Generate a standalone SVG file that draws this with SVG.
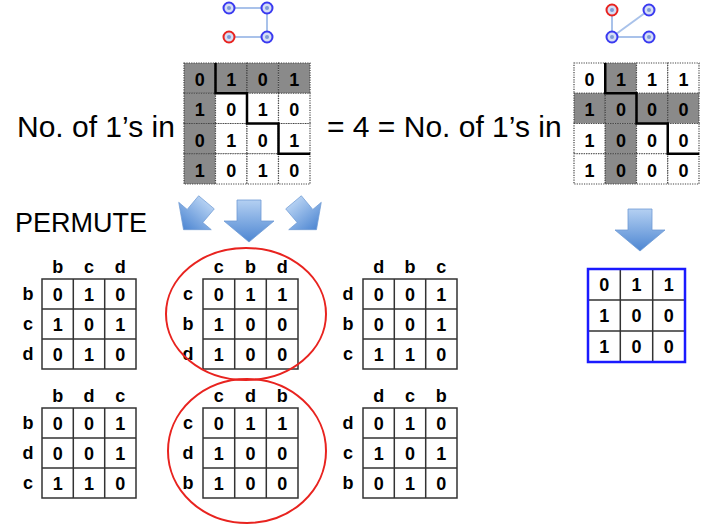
<svg xmlns="http://www.w3.org/2000/svg" width="715" height="526" viewBox="0 0 715 526">
<defs>
<linearGradient id="ag" x1="0" y1="0" x2="0" y2="1">
<stop offset="0" stop-color="#b4d0f2"/>
<stop offset="1" stop-color="#4d86d2"/>
</linearGradient>
<path id="arr" d="M-12,-21 H12 V0 H25 L0,21 L-25,0 H-12 Z"/>
</defs>
<style>
.big{font-family:"Liberation Sans",Arial,sans-serif;font-size:30px;fill:#000}
.perm{font-family:"Liberation Sans",Arial,sans-serif;font-size:27px;fill:#000}
.d{font-family:"Liberation Sans",Arial,sans-serif;font-size:18px;font-weight:bold;fill:#000;text-anchor:middle}
.cell{fill:#fff;stroke:#444;stroke-width:1.2;stroke-dasharray:1.2 1.2}
.gcell{fill:#8a8a8a;stroke:#444;stroke-width:1.2;stroke-dasharray:1.2 1.2}
.stair{fill:none;stroke:#000;stroke-width:2.5}
.grid{fill:none;stroke:#333;stroke-width:1.5}
.ell{fill:none;stroke:#e8231f;stroke-width:2}
.edge{stroke:#a9c2ea;stroke-width:2}
.nd{fill:#d6def5;stroke:#3a3af0;stroke-width:2}
.ndr{fill:#d6def5;stroke:#e8231f;stroke-width:2}
.dot{fill:#7e9bd6}
.arrow{fill:url(#ag);stroke:#6f9ad4;stroke-width:0.8}
</style>

<g id="graph-left">
<line class="edge" x1="229" y1="8" x2="267" y2="8"/>
<line class="edge" x1="267" y1="8" x2="267" y2="37"/>
<line class="edge" x1="229" y1="37" x2="267" y2="37"/>
<circle class="nd" cx="229" cy="8" r="5.5"/><circle class="dot" cx="229" cy="8" r="2"/>
<circle class="nd" cx="267" cy="8" r="5.5"/><circle class="dot" cx="267" cy="8" r="2"/>
<circle class="ndr" cx="229" cy="37" r="5.5"/><circle class="dot" cx="229" cy="37" r="2"/>
<circle class="nd" cx="267" cy="37" r="5.5"/><circle class="dot" cx="267" cy="37" r="2"/>
</g>

<g id="graph-right">
<line class="edge" x1="612" y1="10" x2="612" y2="37"/>
<line class="edge" x1="612" y1="37" x2="649" y2="10"/>
<line class="edge" x1="612" y1="37" x2="649" y2="37"/>
<circle class="ndr" cx="612" cy="10" r="5.5"/><circle class="dot" cx="612" cy="10" r="2"/>
<circle class="nd" cx="649" cy="10" r="5.5"/><circle class="dot" cx="649" cy="10" r="2"/>
<circle class="nd" cx="612" cy="37" r="5.5"/><circle class="dot" cx="612" cy="37" r="2"/>
<circle class="nd" cx="649" cy="37" r="5.5"/><circle class="dot" cx="649" cy="37" r="2"/>
</g>

<g id="text-main">
<text class="big" x="17" y="137">No. of 1’s in</text>
<text class="big" x="327" y="137">= 4 = No. of 1’s in</text>
<text class="perm" x="15" y="232">PERMUTE</text>
</g>

<g id="matrix-left">
<rect class="gcell" x="184" y="63" width="31.5" height="30.25"/>
<rect class="gcell" x="215.5" y="63" width="31.5" height="30.25"/>
<rect class="gcell" x="247" y="63" width="31.5" height="30.25"/>
<rect class="gcell" x="278.5" y="63" width="31.5" height="30.25"/>
<rect class="gcell" x="184" y="93.25" width="31.5" height="30.25"/>
<rect class="cell" x="215.5" y="93.25" width="31.5" height="30.25"/>
<rect class="cell" x="247" y="93.25" width="31.5" height="30.25"/>
<rect class="cell" x="278.5" y="93.25" width="31.5" height="30.25"/>
<rect class="gcell" x="184" y="123.5" width="31.5" height="30.25"/>
<rect class="cell" x="215.5" y="123.5" width="31.5" height="30.25"/>
<rect class="cell" x="247" y="123.5" width="31.5" height="30.25"/>
<rect class="cell" x="278.5" y="123.5" width="31.5" height="30.25"/>
<rect class="gcell" x="184" y="153.75" width="31.5" height="30.25"/>
<rect class="cell" x="215.5" y="153.75" width="31.5" height="30.25"/>
<rect class="cell" x="247" y="153.75" width="31.5" height="30.25"/>
<rect class="cell" x="278.5" y="153.75" width="31.5" height="30.25"/>
<path class="stair" d="M215.5,63 V93.25 H247 V123.5 H278.5 V153.75 H310"/>
<text class="d" x="199.75" y="86">0</text><text class="d" x="231.25" y="86">1</text><text class="d" x="262.75" y="86">0</text><text class="d" x="294.25" y="86">1</text>
<text class="d" x="199.75" y="116">1</text><text class="d" x="231.25" y="116">0</text><text class="d" x="262.75" y="116">1</text><text class="d" x="294.25" y="116">0</text>
<text class="d" x="199.75" y="146.5">0</text><text class="d" x="231.25" y="146.5">1</text><text class="d" x="262.75" y="146.5">0</text><text class="d" x="294.25" y="146.5">1</text>
<text class="d" x="199.75" y="177">1</text><text class="d" x="231.25" y="177">0</text><text class="d" x="262.75" y="177">1</text><text class="d" x="294.25" y="177">0</text>
</g>

<g id="matrix-right">
<rect class="cell" x="574" y="63" width="31.25" height="30.25"/>
<rect class="gcell" x="605.25" y="63" width="31.25" height="30.25"/>
<rect class="cell" x="636.5" y="63" width="31.25" height="30.25"/>
<rect class="cell" x="667.75" y="63" width="31.25" height="30.25"/>
<rect class="gcell" x="574" y="93.25" width="31.25" height="30.25"/>
<rect class="gcell" x="605.25" y="93.25" width="31.25" height="30.25"/>
<rect class="gcell" x="636.5" y="93.25" width="31.25" height="30.25"/>
<rect class="gcell" x="667.75" y="93.25" width="31.25" height="30.25"/>
<rect class="cell" x="574" y="123.5" width="31.25" height="30.25"/>
<rect class="gcell" x="605.25" y="123.5" width="31.25" height="30.25"/>
<rect class="cell" x="636.5" y="123.5" width="31.25" height="30.25"/>
<rect class="cell" x="667.75" y="123.5" width="31.25" height="30.25"/>
<rect class="cell" x="574" y="153.75" width="31.25" height="30.25"/>
<rect class="gcell" x="605.25" y="153.75" width="31.25" height="30.25"/>
<rect class="cell" x="636.5" y="153.75" width="31.25" height="30.25"/>
<rect class="cell" x="667.75" y="153.75" width="31.25" height="30.25"/>
<path class="stair" d="M605.25,63 V93.25 H636.5 V123.5 H667.75 V153.75 H699"/>
<text class="d" x="589.6" y="86">0</text><text class="d" x="620.9" y="86">1</text><text class="d" x="652.1" y="86">1</text><text class="d" x="683.4" y="86">1</text>
<text class="d" x="589.6" y="116">1</text><text class="d" x="620.9" y="116">0</text><text class="d" x="652.1" y="116">0</text><text class="d" x="683.4" y="116">0</text>
<text class="d" x="589.6" y="146.5">1</text><text class="d" x="620.9" y="146.5">0</text><text class="d" x="652.1" y="146.5">0</text><text class="d" x="683.4" y="146.5">0</text>
<text class="d" x="589.6" y="177">1</text><text class="d" x="620.9" y="177">0</text><text class="d" x="652.1" y="177">0</text><text class="d" x="683.4" y="177">0</text>
</g>

<g id="arrows">
<use href="#arr" class="arrow" transform="translate(195,216) rotate(40) scale(0.85)"/>
<use href="#arr" class="arrow" transform="translate(249,221)"/>
<use href="#arr" class="arrow" transform="translate(305,216) rotate(-40) scale(0.85)"/>
<use href="#arr" class="arrow" transform="translate(640,230)"/>
</g>

<g id="perm-bcd">
<path class="grid" d="M42,279 H136 V369 H42 Z M73.3,279 V369 M104.7,279 V369 M42,309 H136 M42,339 H136"/>
<text class="d" x="57.7" y="273">b</text><text class="d" x="89" y="273">c</text><text class="d" x="120.3" y="273">d</text>
<text class="d" x="28" y="300">b</text><text class="d" x="28" y="330">c</text><text class="d" x="28" y="360">d</text>
<text class="d" x="57.7" y="301">0</text><text class="d" x="89" y="301">1</text><text class="d" x="120.3" y="301">0</text>
<text class="d" x="57.7" y="331">1</text><text class="d" x="89" y="331">0</text><text class="d" x="120.3" y="331">1</text>
<text class="d" x="57.7" y="361">0</text><text class="d" x="89" y="361">1</text><text class="d" x="120.3" y="361">0</text>
</g>

<g id="perm-cbd">
<path class="grid" d="M203,279 H298 V369 H203 Z M234.7,279 V369 M266.3,279 V369 M203,309 H298 M203,339 H298"/>
<text class="d" x="218.8" y="273">c</text><text class="d" x="250.5" y="273">b</text><text class="d" x="282.2" y="273">d</text>
<text class="d" x="188" y="300">c</text><text class="d" x="188" y="330">b</text><text class="d" x="188" y="360">d</text>
<text class="d" x="218.8" y="301">0</text><text class="d" x="250.5" y="301">1</text><text class="d" x="282.2" y="301">1</text>
<text class="d" x="218.8" y="331">1</text><text class="d" x="250.5" y="331">0</text><text class="d" x="282.2" y="331">0</text>
<text class="d" x="218.8" y="361">1</text><text class="d" x="250.5" y="361">0</text><text class="d" x="282.2" y="361">0</text>
</g>

<g id="perm-dbc">
<path class="grid" d="M363,279 H457 V369 H363 Z M394.3,279 V369 M425.7,279 V369 M363,309 H457 M363,339 H457"/>
<text class="d" x="378.7" y="273">d</text><text class="d" x="410" y="273">b</text><text class="d" x="441.3" y="273">c</text>
<text class="d" x="348" y="300">d</text><text class="d" x="348" y="330">b</text><text class="d" x="348" y="360">c</text>
<text class="d" x="378.7" y="301">0</text><text class="d" x="410" y="301">0</text><text class="d" x="441.3" y="301">1</text>
<text class="d" x="378.7" y="331">0</text><text class="d" x="410" y="331">0</text><text class="d" x="441.3" y="331">1</text>
<text class="d" x="378.7" y="361">1</text><text class="d" x="410" y="361">1</text><text class="d" x="441.3" y="361">0</text>
</g>

<g id="perm-bdc">
<path class="grid" d="M42,408 H136 V498 H42 Z M73.3,408 V498 M104.7,408 V498 M42,438 H136 M42,468 H136"/>
<text class="d" x="57.7" y="402">b</text><text class="d" x="89" y="402">d</text><text class="d" x="120.3" y="402">c</text>
<text class="d" x="28" y="429">b</text><text class="d" x="28" y="459">d</text><text class="d" x="28" y="489">c</text>
<text class="d" x="57.7" y="430">0</text><text class="d" x="89" y="430">0</text><text class="d" x="120.3" y="430">1</text>
<text class="d" x="57.7" y="460">0</text><text class="d" x="89" y="460">0</text><text class="d" x="120.3" y="460">1</text>
<text class="d" x="57.7" y="490">1</text><text class="d" x="89" y="490">1</text><text class="d" x="120.3" y="490">0</text>
</g>

<g id="perm-cdb">
<path class="grid" d="M203,408 H298 V498 H203 Z M234.7,408 V498 M266.3,408 V498 M203,438 H298 M203,468 H298"/>
<text class="d" x="218.8" y="402">c</text><text class="d" x="250.5" y="402">d</text><text class="d" x="282.2" y="402">b</text>
<text class="d" x="188" y="429">c</text><text class="d" x="188" y="459">d</text><text class="d" x="188" y="489">b</text>
<text class="d" x="218.8" y="430">0</text><text class="d" x="250.5" y="430">1</text><text class="d" x="282.2" y="430">1</text>
<text class="d" x="218.8" y="460">1</text><text class="d" x="250.5" y="460">0</text><text class="d" x="282.2" y="460">0</text>
<text class="d" x="218.8" y="490">1</text><text class="d" x="250.5" y="490">0</text><text class="d" x="282.2" y="490">0</text>
</g>

<g id="perm-dcb">
<path class="grid" d="M363,408 H457 V498 H363 Z M394.3,408 V498 M425.7,408 V498 M363,438 H457 M363,468 H457"/>
<text class="d" x="378.7" y="402">d</text><text class="d" x="410" y="402">c</text><text class="d" x="441.3" y="402">b</text>
<text class="d" x="348" y="429">d</text><text class="d" x="348" y="459">c</text><text class="d" x="348" y="489">b</text>
<text class="d" x="378.7" y="430">0</text><text class="d" x="410" y="430">1</text><text class="d" x="441.3" y="430">0</text>
<text class="d" x="378.7" y="460">1</text><text class="d" x="410" y="460">0</text><text class="d" x="441.3" y="460">1</text>
<text class="d" x="378.7" y="490">0</text><text class="d" x="410" y="490">1</text><text class="d" x="441.3" y="490">0</text>
</g>

<g id="ellipses">
<ellipse class="ell" cx="246" cy="314" rx="80" ry="66"/>
<ellipse class="ell" cx="247" cy="451" rx="79" ry="72"/>
</g>

<g id="result-matrix">
<path class="grid" d="M620.3,269 V362 M652.7,269 V362 M588,300 H685 M588,331 H685"/>
<rect x="588" y="269" width="97" height="93" fill="none" stroke="#1a1aff" stroke-width="2.5"/>
<text class="d" x="604.2" y="291">0</text><text class="d" x="636.5" y="291">1</text><text class="d" x="668.8" y="291">1</text>
<text class="d" x="604.2" y="322">1</text><text class="d" x="636.5" y="322">0</text><text class="d" x="668.8" y="322">0</text>
<text class="d" x="604.2" y="353">1</text><text class="d" x="636.5" y="353">0</text><text class="d" x="668.8" y="353">0</text>
</g>
</svg>
